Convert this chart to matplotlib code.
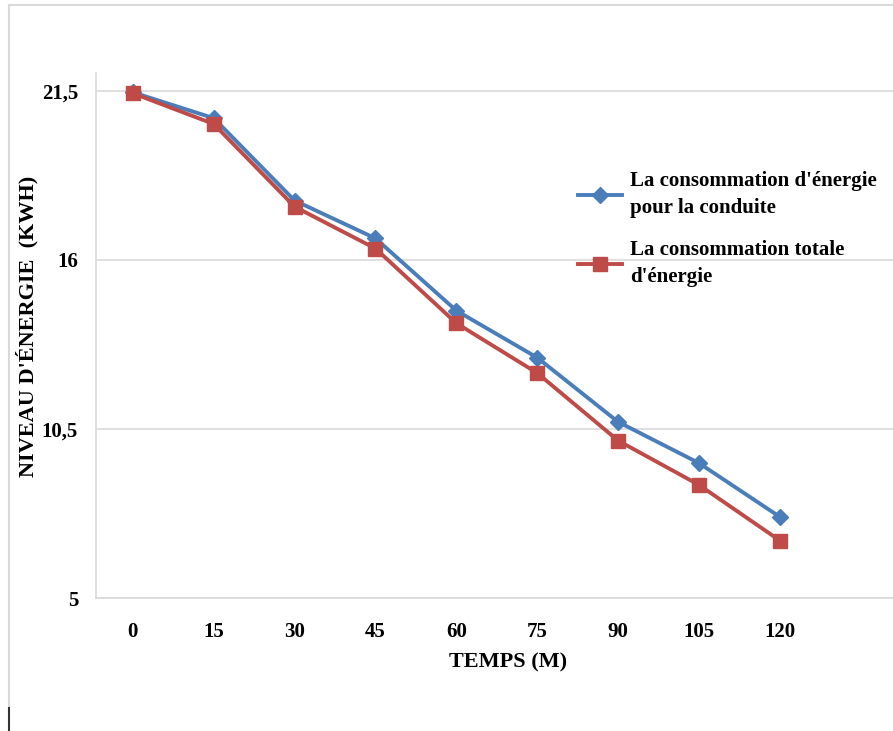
import matplotlib
matplotlib.use("Agg")
import matplotlib.pyplot as plt
from matplotlib.lines import Line2D
from matplotlib.ticker import FixedLocator, FuncFormatter

# ---- data ----
temps = [0, 15, 30, 45, 60, 75, 90, 105, 120]
conduite = [21.45, 20.61, 17.93, 16.70, 14.35, 12.82, 10.73, 9.39, 7.64]
totale = [21.42, 20.42, 17.73, 16.37, 13.94, 12.32, 10.12, 8.68, 6.87]
yticks = [5, 10.5, 16, 21.5]
label_conduite = "La consommation d'énergie\npour la conduite"
label_totale = "La consommation totale\nd'énergie"

W, H = 893, 731
plt.rcParams['font.family'] = ['Liberation Serif', 'DejaVu Serif']
plt.rcParams['font.weight'] = 'bold'

fig = plt.figure(figsize=(W / 100, H / 100), dpi=100)
ax = fig.add_axes([95.7 / W, 1 - 598 / H, (W - 95.7) / W, (598 - 73) / H])

blue = '#4A7EBB'
red = '#BE4B48'
ax.plot(temps, conduite, color=blue, lw=2.8, marker='D', markersize=8,
        label=label_conduite, zorder=3)
ax.plot(temps, totale, color=red, lw=2.8, marker='s', markersize=9.5,
        label=label_totale, zorder=4)

ax.set_xlim(-6.9, 141)
ax.set_ylim(5, 22.08)
ax.xaxis.set_major_locator(FixedLocator(temps))
ax.yaxis.set_major_locator(FixedLocator(yticks))
ax.yaxis.set_major_formatter(FuncFormatter(
    lambda v, p: (f"{v:g}").replace('.', ',')))
ax.grid(axis='y', color='#D9D9D9', lw=1.2)
ax.set_axisbelow(True)
for s in ['top', 'right']:
    ax.spines[s].set_visible(False)
for s in ['left', 'bottom']:
    ax.spines[s].set_color('#D9D9D9')
    ax.spines[s].set_linewidth(1.2)
ax.tick_params(length=0)
ax.tick_params(axis='x', pad=17, labelsize=15)
ax.tick_params(axis='y', pad=12.7, labelsize=15)
for t in ax.get_xticklabels() + ax.get_yticklabels():
    t.set_fontweight('bold')

ax.set_xlabel('TEMPS (M)', fontsize=16, fontweight='bold')
ax.xaxis.set_label_coords((508 - 95.7) / (W - 95.7), (598 - 662) / 525,
                          transform=ax.transAxes)
ax.xaxis.label.set_va('center')
ax.set_ylabel("NIVEAU D'ÉNERGIE  (KWH)", fontsize=16, fontweight='bold')
ax.yaxis.set_label_coords((27 - 95.7) / (W - 95.7), (598 - 326) / 525,
                          transform=ax.transAxes)
ax.yaxis.label.set_va('center')

leg = ax.legend(loc='upper left', bbox_to_anchor=(568 / W, 1 - 161 / H),
                bbox_transform=fig.transFigure, frameon=False,
                prop={'size': 15, 'weight': 'bold'}, borderpad=0,
                handlelength=2.1, handletextpad=0.4, labelspacing=1.05)
for t in leg.get_texts():
    t.set_linespacing(1.45)

# chart-area border
g = '#D9D9D9'
fig.add_artist(Line2D([9 / W, 1], [1 - 5 / H, 1 - 5 / H], color=g, lw=1.5,
                      transform=fig.transFigure))
fig.add_artist(Line2D([9 / W, 9 / W], [1 - 5 / H, 1 - 708 / H], color=g, lw=1.5,
                      transform=fig.transFigure))
fig.add_artist(Line2D([9 / W, 9 / W], [1 - 708 / H, 0], color='#333333', lw=1.5,
                      transform=fig.transFigure))

fig.savefig('out.png', dpi=100)
